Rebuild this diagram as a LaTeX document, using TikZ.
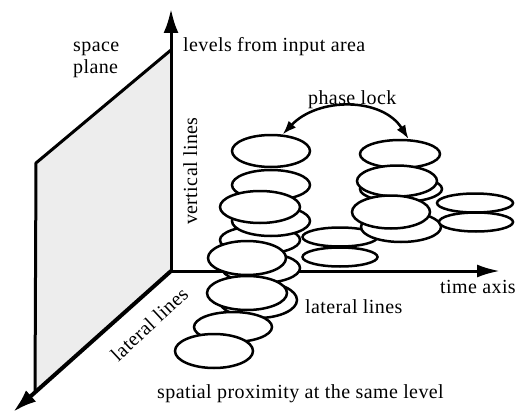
\documentclass[tikz,border=0pt]{standalone}
\usepackage{fontspec}
\setmainfont{Liberation Serif}[LetterSpace=2]
\usetikzlibrary{shapes.geometric,arrows.meta}

\begin{document}
\begin{tikzpicture}[x=1pt,y=-1pt,
  lbl/.style={font=\fontsize{20}{24}\selectfont, inner sep=0pt},
  blob/.style 2 args={ellipse, draw, fill=white, line width=2.5pt,
    inner sep=0pt, minimum width=#1pt, minimum height=#2pt},
  axisline/.style={line width=3pt},
  bigtip/.style={-{Latex[length=24pt,width=15pt]}},
]
\useasboundingbox (0,0) rectangle (516,417);

% axes and the space plane
\coordinate (O) at (171,271);
\coordinate (up) at (171,9);
\coordinate (tm) at (500,271);
\coordinate (lat) at (13,412);
\coordinate (ptop) at (171,50);
\coordinate (pleft) at (36,163);
\coordinate (pbot) at (35,392);

\fill[black!7] (ptop) -- (pleft) -- (pbot) -- (O) -- cycle;
\draw[line width=3pt, line join=miter] (ptop) -- (pleft) -- (pbot);
\draw[axisline, bigtip] (O) -- (up);
\draw[axisline, -{Latex[length=23pt,width=13pt]}] (O) -- (tm);
\draw[line width=4pt, bigtip] (O) -- (lat);

% left stack of ellipses, back to front
\node[blob={80}{28}] (e5) at (260,240) {};
\node[blob={78}{30}] (e6b) at (261,268) {};
\node[blob={78}{36}] (e7b) at (258,300) {};
\node[blob={78}{32}] (A) at (271,151) {};
\node[blob={78}{30}] (B) at (271,185) {};
\node[blob={78}{30}] (D) at (271,221) {};
\node[blob={80}{32}] (C) at (260,207) {};
\node[blob={78}{34}] (e6) at (247,258) {};
\node[blob={80}{34}] (e7) at (247,293) {};
\node[blob={78}{30}] (e8) at (233,327) {};
\node[blob={78}{34}] (e9) at (214,351) {};

% flat ellipses in the middle
\node[blob={75}{19}] (f1) at (340,237) {};
\node[blob={75}{19}] (f2) at (340,257) {};

% right stack
\node[blob={80}{28}] (R1) at (400,154) {};
\node[blob={82}{26}] (r2b) at (401,189) {};
\node[blob={80}{31}] (r2) at (397,181) {};
\node[blob={80}{30}] (r3b) at (401,227) {};
\node[blob={78}{33}] (r3) at (391,212) {};

% flat ellipses on the right
\node[blob={76}{19}] (f3) at (475,203) {};
\node[blob={74}{19}] (f4) at (476,222) {};

% phase lock connector
\draw[line width=2.5pt, {Latex[length=14pt,width=10pt]}-{Latex[length=14pt,width=10pt]}]
  (A.55) .. controls (318,97) and (382,97) .. (R1.60);

% labels
\node[lbl, anchor=base west] (sp1) at (73,52) {space};
\node[lbl, anchor=base west] (sp2) at (73,74) {plane};
\node[lbl, anchor=base west] (lev) at (183,52) {levels from input area};
\node[lbl, rotate=90, anchor=base] (vl) at (197,171) {vertical lines};
\node[lbl, anchor=base west] (pl) at (308,105) {phase lock};
\node[lbl, anchor=base west] (ta) at (440,293) {time axis};
\node[lbl, anchor=base west] (ll2) at (305,313) {lateral lines};
\node[lbl, rotate=43, anchor=base] (ll1) at (154,329) {lateral lines};
\node[lbl, anchor=base west] (spx) at (157,398) {spatial proximity at the same level};
\end{tikzpicture}
\end{document}
